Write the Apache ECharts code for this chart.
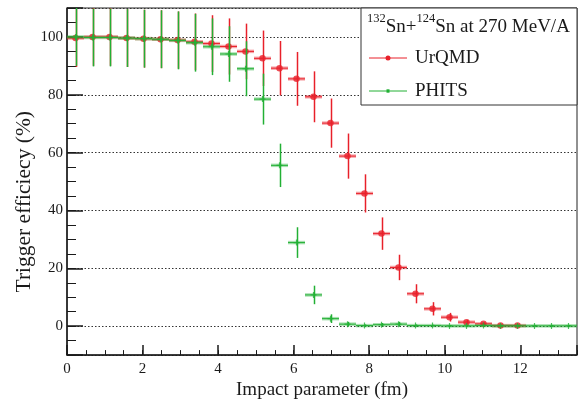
<!DOCTYPE html>
<html><head><meta charset="utf-8">
<script src="https://cdn.jsdelivr.net/npm/echarts@6/dist/echarts.min.js"></script>
<style>html,body{margin:0;padding:0;background:#fff}#c{width:582px;height:405px}</style>
</head><body><div id="c"></div>
<script>
// ---- data ----
const impact = [0.225, 0.675, 1.125, 1.575, 2.025, 2.475, 2.925, 3.375, 3.825, 4.275,
  4.725, 5.175, 5.625, 6.075, 6.525, 6.975, 7.425, 7.875, 8.325, 8.775,
  9.225, 9.675, 10.125, 10.575, 11.025, 11.475, 11.925, 12.375, 12.825, 13.275];
const binHalfWidth = 0.225;
const urqmd = [99.6, 100.0, 100.0, 99.6, 99.4, 99.2, 98.9, 98.3, 97.7, 96.7,
  95.0, 92.6, 89.2, 85.5, 79.3, 70.2, 58.8, 45.9, 32.0, 20.3,
  11.2, 6.0, 3.1, 1.4, 0.8, 0.2, 0.2, null, null, null];
const urqmdErr = [10, 10, 10, 10, 10, 10, 9.9, 9.8, 9.8, 9.7,
  9.6, 9.6, 9.4, 9.3, 8.8, 8.5, 7.8, 6.6, 5.6, 4.4,
  3.3, 2.3, 1.5, 0.8, 0.5, 0.3, 0.3, null, null, null];
const phits = [100.0, 99.8, 99.8, 99.6, 99.4, 99.2, 98.8, 98.0, 96.6, 94.1,
  89.0, 78.5, 55.6, 28.9, 10.8, 2.6, 0.7, 0.2, 0.5, 0.7,
  0.2, 0.2, 0.1, 0.1, 0.2, 0.1, 0.1, 0.1, 0.1, 0.1];
const phitsErr = [10, 10, 10, 10, 10, 10, 10, 10, 9.8, 9.6,
  9.5, 8.8, 7.5, 5.3, 3.2, 1.5, 0.8, 0.4, 0.6, 0.8,
  0.4, 0.3, 0.3, 0.3, 0.3, 0.3, 0.3, 0.3, 0.3, 0.3];
const xTickLabels = ['0', '2', '4', '6', '8', '10', '12'];
const yTickLabels = ['0', '20', '40', '60', '80', '100'];
const seriesNames = ['UrQMD', 'PHITS'];

// ---- styling ----
const RED = '#e8202a';
const GREEN = '#22b034';
const INK = '#1a1a1a';
const FONT = '"Liberation Serif", "DejaVu Serif", serif';

function points(vals, errs) {
  const out = [];
  impact.forEach((x, i) => { if (vals[i] != null) out.push([x, vals[i], errs[i]]); });
  return out;
}

function errRender(color) {
  return function (params, api) {
    const x = api.value(0), y = api.value(1), e = api.value(2);
    const cs = params.coordSys;
    const pL = api.coord([x - binHalfWidth, y]);
    const pR = api.coord([x + binHalfWidth, y]);
    const pT = api.coord([x, y + e]);
    const pB = api.coord([x, y - e]);
    const top = Math.max(pT[1], cs.y);
    const bot = Math.min(pB[1], cs.y + cs.height);
    const vx = Math.round(pT[0]) + 0.5;
    return {
      type: 'group',
      children: [
        { type: 'line', shape: { x1: pL[0], y1: pL[1], x2: pR[0], y2: pR[1] }, style: { stroke: color, lineWidth: 3.5, opacity: 0.4 } },
        { type: 'line', shape: { x1: pL[0], y1: pL[1], x2: pR[0], y2: pR[1] }, style: { stroke: color, lineWidth: 1 } },
        { type: 'line', shape: { x1: vx, y1: top, x2: vx, y2: bot }, style: { stroke: color, lineWidth: 1.5 } }
      ]
    };
  };
}

const plusPath = 'path://M4,0 L6,0 L6,4 L10,4 L10,6 L6,6 L6,10 L4,10 L4,6 L0,6 L0,4 L4,4 Z';

const chart = echarts.init(document.getElementById('c'), null, { renderer: 'canvas' });
chart.setOption({
  animation: false,
  backgroundColor: '#fff',
  grid: { left: 67, right: 5, top: 8, bottom: 44, show: true, borderColor: '#222', borderWidth: 1, backgroundColor: 'transparent' },
  xAxis: [
    {
      type: 'value', min: 0, max: 13.5, interval: 2, position: 'bottom',
      axisLine: { show: true, onZero: false, lineStyle: { color: INK, width: 1.5 } },
      axisTick: { show: true, inside: true, length: 10, lineStyle: { color: INK, width: 1.5 } },
      axisLabel: { margin: 6, color: INK, fontFamily: FONT, fontSize: 15,
        formatter: v => (xTickLabels.indexOf(String(v)) >= 0 ? String(v) : '') },
      splitLine: { show: false },
      name: 'Impact parameter (fm)', nameLocation: 'middle', nameGap: 22,
      nameTextStyle: { color: INK, fontFamily: FONT, fontSize: 19 }
    },
    {
      type: 'value', min: 0, max: 13.5, interval: 0.5, position: 'bottom',
      axisLine: { show: false, onZero: false },
      axisTick: { show: true, inside: true, length: 5, lineStyle: { color: INK, width: 1 } },
      axisLabel: { show: false }, splitLine: { show: false }
    }
  ],
  yAxis: [
    {
      type: 'value', min: -10, max: 110, splitNumber: 6, position: 'left',
      axisLine: { show: true, onZero: false, lineStyle: { color: INK, width: 1.5 } },
      axisTick: { show: true, inside: true, length: 16, lineStyle: { color: INK, width: 1.5 } },
      axisLabel: { margin: 4, color: INK, fontFamily: FONT, fontSize: 15,
        formatter: v => (yTickLabels.indexOf(String(v)) >= 0 ? String(v) : '') },
      splitLine: { show: true, lineStyle: { color: '#333', width: 1, type: [1.5, 2] } }
    },
    {
      type: 'value', min: -10, max: 110, interval: 5, position: 'left',
      axisLine: { show: false, onZero: false },
      axisTick: { show: true, inside: true, length: 9, lineStyle: { color: INK, width: 1 } },
      axisLabel: { show: false }, splitLine: { show: false }
    }
  ],
  series: [
    { name: seriesNames[0] + ' errors', type: 'custom', xAxisIndex: 0, yAxisIndex: 0, clip: true,
      renderItem: errRender(RED), data: points(urqmd, urqmdErr), z: 2, silent: true },
    { name: seriesNames[0], type: 'scatter', xAxisIndex: 0, yAxisIndex: 0, clip: true,
      symbol: 'circle', symbolSize: 6.5, itemStyle: { color: RED }, data: points(urqmd, urqmdErr), z: 3 },
    { name: seriesNames[1] + ' errors', type: 'custom', xAxisIndex: 0, yAxisIndex: 0, clip: true,
      renderItem: errRender(GREEN), data: points(phits, phitsErr), z: 4, silent: true },
    { name: seriesNames[1], type: 'scatter', xAxisIndex: 0, yAxisIndex: 0, clip: true,
      symbol: plusPath, symbolSize: 6, itemStyle: { color: GREEN }, data: points(phits, phitsErr), z: 5 }
  ],
  graphic: [
    { type: 'text', left: 13, top: 111, rotation: Math.PI / 2, z: 10,
      style: { text: 'Trigger efficiecy (%)', font: '21.5px ' + FONT, fill: INK } },
    { type: 'rect', shape: { x: 361, y: 8, width: 216, height: 97 }, z: 20,
      style: { fill: '#fff', stroke: '#333', lineWidth: 1 } },
    { type: 'text', x: 367, y: 12, z: 21,
      style: {
        text: '{sup|132}{n|Sn+}{sup|124}{n|Sn at 270 MeV/A}',
        rich: {
          sup: { font: '12.5px ' + FONT, fill: INK, verticalAlign: 'top', padding: [0, 0, 6, 0] },
          n: { font: '19px ' + FONT, fill: INK, padding: [6, 0, 0, 0] }
        }
      } },
    { type: 'line', shape: { x1: 369, y1: 58, x2: 407, y2: 58 }, z: 21, style: { stroke: RED, lineWidth: 1 } },
    { type: 'circle', shape: { cx: 388, cy: 58, r: 2.5 }, z: 21, style: { fill: RED } },
    { type: 'text', x: 415, y: 58, z: 21,
      style: { text: seriesNames[0], font: '19px ' + FONT, fill: INK, verticalAlign: 'middle' } },
    { type: 'line', shape: { x1: 369, y1: 91, x2: 407, y2: 91 }, z: 21, style: { stroke: GREEN, lineWidth: 1 } },
    { type: 'text', x: 415, y: 91, z: 21,
      style: { text: seriesNames[1], font: '19px ' + FONT, fill: INK, verticalAlign: 'middle' } },
    { type: 'rect', shape: { x: 386.5, y: 89.3, width: 3, height: 3.4 }, z: 22, style: { fill: GREEN } }
  ]
});
</script></body></html>
